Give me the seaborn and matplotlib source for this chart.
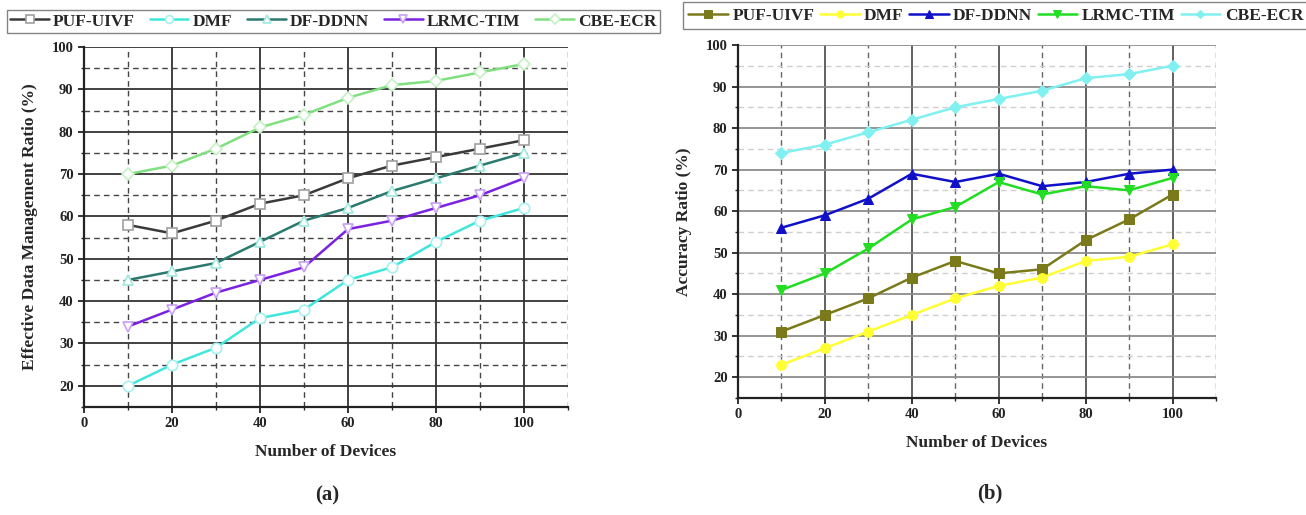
import matplotlib
matplotlib.use("Agg")
import matplotlib.pyplot as plt
from matplotlib.ticker import MultipleLocator
import seaborn as sns
import pandas as pd

sns.set_style("ticks")
plt.rcParams["font.family"] = ["Liberation Serif", "DejaVu Serif"]
plt.rcParams["font.weight"] = "bold"
plt.rcParams["axes.labelweight"] = "bold"

devices = [10, 20, 30, 40, 50, 60, 70, 80, 90, 100]
methods = ["PUF-UIVF", "DMF", "DF-DDNN", "LRMC-TIM", "CBE-ECR"]

# (a) effective data management ratio
edm_puf = [58, 56, 59, 63, 65, 69, 72, 74, 76, 78]
edm_dmf = [20, 25, 29, 36, 38, 45, 48, 54, 59, 62]
edm_dfd = [45, 47, 49, 54, 59, 62, 66, 69, 72, 75]
edm_lrmc = [34, 38, 42, 45, 48, 57, 59, 62, 65, 69]
edm_cbe = [70, 72, 76, 81, 84, 88, 91, 92, 94, 96]

# (b) accuracy ratio
acc_puf = [31, 35, 39, 44, 48, 45, 46, 53, 58, 64]
acc_dmf = [23, 27, 31, 35, 39, 42, 44, 48, 49, 52]
acc_dfd = [56, 59, 63, 69, 67, 69, 66, 67, 69, 70]
acc_lrmc = [41, 45, 51, 58, 61, 67, 64, 66, 65, 68]
acc_cbe = [74, 76, 79, 82, 85, 87, 89, 92, 93, 95]

markers = ["s", "o", "^", "v", "D"]
a_colors = ["#3a3a3a", "#3fe6de", "#2a7a70", "#7a22e0", "#80e080"]
a_edges = ["#a0a0a0", "#a8f0f0", "#a0e8e0", "#c8a0f4", "#c4f0c4"]
b_colors = ["#7a7a1a", "#ffff33", "#1010c8", "#22dd22", "#80f0f0"]

df_a = pd.DataFrame({"Devices": devices * 5,
                     "Value": edm_puf + edm_dmf + edm_dfd + edm_lrmc + edm_cbe,
                     "Method": [m for m in methods for _ in devices]})
df_b = pd.DataFrame({"Devices": devices * 5,
                     "Value": acc_puf + acc_dmf + acc_dfd + acc_lrmc + acc_cbe,
                     "Method": [m for m in methods for _ in devices]})

fig = plt.figure(figsize=(13.06, 5.15), dpi=100)
ax1 = fig.add_axes([84 / 1306, 1 - 407 / 515, 484 / 1306, 360 / 515])
ax2 = fig.add_axes([738 / 1306, 1 - 398 / 515, 478 / 1306, 353 / 515])


def style_axes(ax, hmaj, hmin, vmaj, vmin):
    ax.set_xlim(0, 110)
    ax.set_ylim(15, 100)
    ax.xaxis.set_minor_locator(MultipleLocator(10))
    ax.yaxis.set_minor_locator(MultipleLocator(5))
    ax.set_xticks([0, 20, 40, 60, 80, 100])
    ax.set_yticks([20, 30, 40, 50, 60, 70, 80, 90, 100])
    ax.grid(False)
    ax.grid(which="major", axis="y", color=hmaj, lw=1.3, ls="-")
    ax.grid(which="minor", axis="y", color=hmin, lw=1.0, ls=(0, (4, 3)))
    ax.grid(which="major", axis="x", color=vmaj, lw=1.3, ls="-")
    ax.grid(which="minor", axis="x", color=vmin, lw=1.0, ls=(0, (4, 3)))
    for t in ax.yaxis.get_major_ticks():
        if t.get_loc() == 100:
            t.gridline.set_visible(False)
    ax.set_axisbelow(True)
    for s in ["top", "right"]:
        ax.spines[s].set_visible(False)
    for s in ["left", "bottom"]:
        ax.spines[s].set_linewidth(1.6)
        ax.spines[s].set_color("#222222")
    ax.tick_params(which="major", direction="out", length=4, width=1.3, labelsize=10.5, colors="#222222")
    ax.tick_params(which="minor", direction="out", length=2.5, width=1.0)
    for lab in ax.get_xticklabels() + ax.get_yticklabels():
        lab.set_fontweight("bold")
    ax.set_xlabel("Number of Devices", fontsize=12.5, labelpad=10)


for i, m in enumerate(methods):
    sub = df_a[df_a["Method"] == m]
    sns.lineplot(data=sub, x="Devices", y="Value", ax=ax1, color=a_colors[i], lw=1.8,
                 marker=markers[i], markersize=7.5 if markers[i] != "D" else 6.5,
                 markerfacecolor="white", markeredgecolor=a_edges[i], markeredgewidth=1.2,
                 label=m, zorder=3)
    sub = df_b[df_b["Method"] == m]
    sns.lineplot(data=sub, x="Devices", y="Value", ax=ax2, color=b_colors[i], lw=1.8,
                 marker=markers[i], markersize=7 if markers[i] != "D" else 6,
                 markerfacecolor=b_colors[i], markeredgecolor=b_colors[i],
                 label=m, zorder=3)

style_axes(ax1, "#333333", "#444444", "#333333", "#444444")
style_axes(ax2, "#8c8c8c", "#cfcfcf", "#555555", "#666666")
ax1.set_ylabel("Effective Data Management Ratio (%)", fontsize=12.5, labelpad=10)
ax2.set_ylabel("Accuracy Ratio (%)", fontsize=12.5, labelpad=10)

# legend (a): framed box across the panel
handles, labels = ax1.get_legend_handles_labels()
ax1.get_legend().remove()
leg = fig.legend(handles, labels, ncol=5, mode="expand", loc="lower left",
                 bbox_to_anchor=(7 / 1306, 1 - 33 / 515, 653 / 1306, 24 / 515),
                 prop={"weight": "bold", "size": 12.5}, frameon=True, fancybox=False,
                 edgecolor="#666666", handlelength=2.2, handletextpad=0.25,
                 columnspacing=0.3, borderaxespad=0, borderpad=0.2, markerscale=0.75)
leg.get_frame().set_linewidth(1.0)

# legend (b): runs off the right edge
handles, labels = ax2.get_legend_handles_labels()
ax2.get_legend().remove()
leg = fig.legend(handles, labels, ncol=5, loc="lower left",
                 bbox_to_anchor=(683 / 1306, 1 - 29 / 515),
                 prop={"weight": "bold", "size": 12.5}, frameon=True, fancybox=False,
                 edgecolor="#666666", handlelength=2.3, handletextpad=0.25,
                 columnspacing=0.3, borderaxespad=0, borderpad=0.3, markerscale=0.75)
leg.get_frame().set_linewidth(1.0)

fig.text(327 / 1306, 1 - 495 / 515, "(a)", ha="center", va="center", fontsize=15, fontweight="bold")
fig.text(990 / 1306, 1 - 493 / 515, "(b)", ha="center", va="center", fontsize=15, fontweight="bold")

plt.savefig("out.png", dpi=100)
plt.close()
